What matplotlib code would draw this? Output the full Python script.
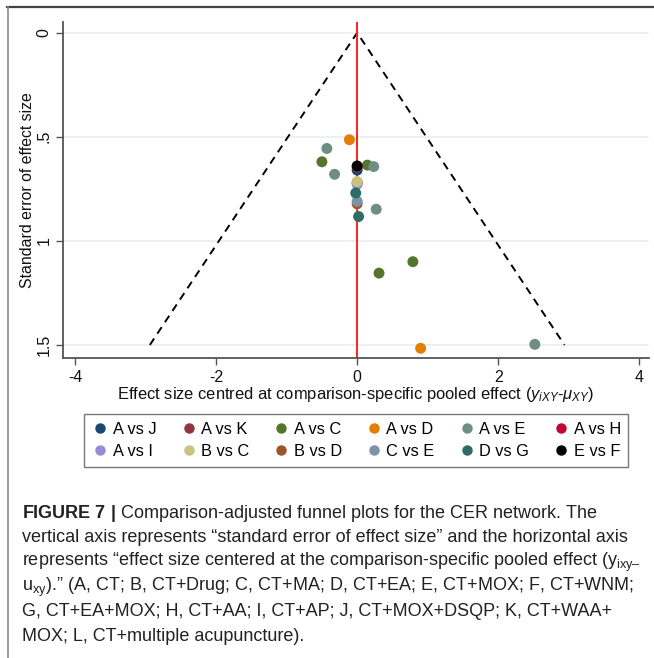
import numpy as np
import matplotlib
matplotlib.use('Agg')
import matplotlib.pyplot as plt
from matplotlib.lines import Line2D

plt.rcParams['font.family'] = ['Liberation Sans', 'DejaVu Sans']
plt.rcParams['mathtext.fontset'] = 'custom'
plt.rcParams['mathtext.rm'] = 'Liberation Sans'
plt.rcParams['mathtext.it'] = 'Liberation Sans:italic'
plt.rcParams['mathtext.bf'] = 'Liberation Sans:bold'

# comparisons in legend order, with Stata s2color palette
comparisons = ['A vs J', 'A vs K', 'A vs C', 'A vs D', 'A vs E', 'A vs H',
               'A vs I', 'B vs C', 'B vs D', 'C vs E', 'D vs G', 'E vs F']
colors = ['#1a476f', '#90353b', '#55752f', '#e37e00', '#6e8e84', '#c10534',
          '#938dd2', '#cac27e', '#a0522d', '#7b92a8', '#2d6d66', '#000000']

# centred effect sizes (x) and standard errors (y) per comparison
effects = {
    'A vs J': [0.0],
    'A vs K': [0.0],
    'A vs C': [-0.50, 0.145, 0.79, 0.31],
    'A vs D': [-0.11, 0.90],
    'A vs E': [-0.43, -0.32, 0.235, 0.27, 2.52],
    'A vs H': [0.0],
    'A vs I': [0.0],
    'B vs C': [0.0],
    'B vs D': [0.0],
    'C vs E': [0.0],
    'D vs G': [-0.02, 0.02],
    'E vs F': [0.0],
}
std_errors = {
    'A vs J': [0.66],
    'A vs K': [0.645],
    'A vs C': [0.62, 0.636, 1.10, 1.155],
    'A vs D': [0.514, 1.516],
    'A vs E': [0.556, 0.68, 0.643, 0.848, 1.497],
    'A vs H': [0.72],
    'A vs I': [0.728],
    'B vs C': [0.715],
    'B vs D': [0.822],
    'C vs E': [0.81],
    'D vs G': [0.77, 0.883],
    'E vs F': [0.64],
}

fig = plt.figure(figsize=(6.54, 6.58), dpi=100)
ax = fig.add_axes([0.0965, 0.456, 0.896, 0.511])

# pseudo 95% confidence funnel
se_max = 1.5
ax.plot([-1.96 * se_max, 0, 1.96 * se_max], [se_max, 0, se_max],
        color='black', linestyle=(0, (4, 3)), linewidth=1.4, zorder=2)
ax.axvline(0, color='#ff2020', linewidth=1.4, zorder=2)

handles = []
for name, col in zip(comparisons, colors):
    ax.scatter(effects[name], std_errors[name], s=62, color=col,
               edgecolors='none', zorder=3)
    handles.append(Line2D([], [], marker='o', linestyle='none', color=col,
                          markersize=6.5, label=name))

ax.set_xlim(-4.17, 4.14)
ax.set_ylim(1.5625, -0.053)
ax.set_xticks([-4, -2, 0, 2, 4])
ax.set_xticklabels(['-4', '-2', '0', '2', '4'], fontsize=11.5)
ax.set_yticks([0, 0.5, 1, 1.5])
ax.set_yticklabels(['0', '.5', '1', '1.5'], fontsize=11.5, rotation=90, va='center')
ax.tick_params(axis='both', length=5, width=1, color='#555555', labelcolor='#111111')

ax.yaxis.grid(True, color='#e8f0f2', linewidth=1.3)
ax.set_axisbelow(True)
for s in ['top', 'right']:
    ax.spines[s].set_visible(False)
for s in ['left', 'bottom']:
    ax.spines[s].set_color('#555555')
    ax.spines[s].set_linewidth(1.3)

ax.set_xlabel(r'Effect size centred at comparison-specific pooled effect ($y_{iXY}$-$\mu_{XY}$)',
              fontsize=11.9, labelpad=0, color='#111111')
ax.set_ylabel('Standard error of effect size', fontsize=11.4, labelpad=1, color='#111111')

# legend filled column-wise, so interleave the two rows
order = []
for i in range(6):
    order += [handles[i], handles[i + 6]]
leg = fig.legend(handles=order, loc='center', bbox_to_anchor=(0.5445, 0.3305),
                 ncol=6, fontsize=11.8, frameon=True, fancybox=False,
                 handletextpad=0.2, columnspacing=1.42, handlelength=1.1,
                 borderpad=0.45, labelspacing=0.45)
leg.get_frame().set_edgecolor('#555555')
leg.get_frame().set_linewidth(1.0)

# frame edges of the figure panel
fig.add_artist(Line2D([7 / 654, 653 / 654], [1 - 7 / 658, 1 - 7 / 658],
                      transform=fig.transFigure, color='#444444', linewidth=1.6))
fig.add_artist(Line2D([7.5 / 654, 7.5 / 654], [1 - 7 / 658, 0],
                      transform=fig.transFigure, color='#8a8a8a', linewidth=1.2))

caption = [
    r'$\mathbf{FIGURE\ 7\ |}$ Comparison-adjusted funnel plots for the CER network. The',
    'vertical axis represents \u201cstandard error of effect size\u201d and the horizontal axis',
    'represents \u201ceffect size centered at the comparison-specific pooled effect (y$_{\\mathregular{ixy\u2013}}$',
    'u$_{\\mathregular{xy}}$).\u201d (A, CT; B, CT+Drug; C, CT+MA; D, CT+EA; E, CT+MOX; F, CT+WNM;',
    'G, CT+EA+MOX; H, CT+AA; I, CT+AP; J, CT+MOX+DSQP; K, CT+WAA+',
    'MOX; L, CT+multiple acupuncture).',
]
for i, line in enumerate(caption):
    fig.text(22 / 654, 1 - (513 + 24.7 * i) / 658, line, fontsize=13.0,
             color='#222222', va='center', ha='left')

fig.savefig('out.png', dpi=100)
